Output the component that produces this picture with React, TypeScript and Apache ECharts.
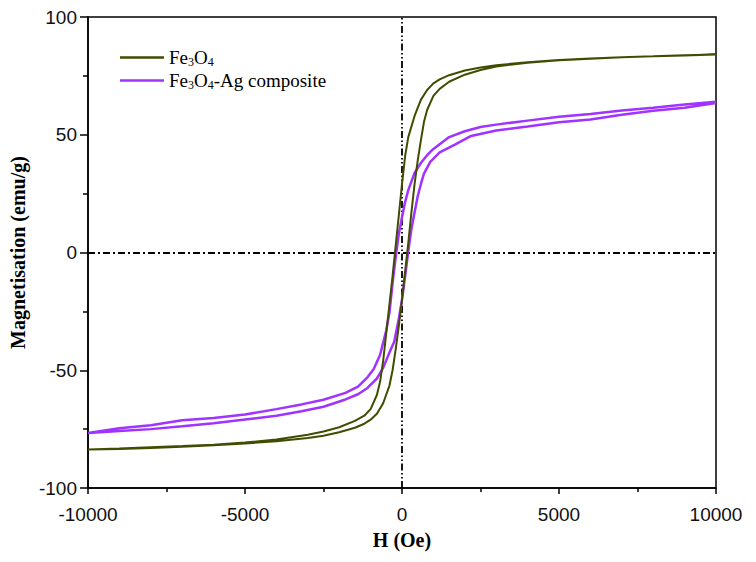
import React, { useEffect, useRef } from "react";
import * as echarts from "echarts";

// Fe3O4: descending branch (H from +10000 to -10000)
const feDescH = [10000, 9000, 8000, 7000, 6000, 5000, 4000, 3000, 2500, 2000, 1500, 1200, 1000, 800, 600, 400, 200, 100, 0, -100, -200, -300, -400, -500, -600, -700, -800, -1000, -1200, -1500, -2000, -2500, -3000, -4000, -5000, -6000, -7000, -8000, -9000, -10000];
const feDescM = [84.1, 83.8, 83.3, 82.9, 82.4, 81.7, 80.8, 79.5, 78.6, 77.3, 75.3, 73.5, 71.8, 69.0, 64.8, 58.0, 49.0, 41.0, 29.0, 16.0, 3.0, -10.0, -22.0, -34.0, -46.0, -55.0, -60.5, -66.5, -69.3, -71.5, -74.2, -76.0, -77.4, -79.4, -80.7, -81.6, -82.2, -82.7, -83.2, -83.6];
// Fe3O4: ascending branch (H from -10000 to +10000)
const feAscH = [-10000, -9000, -8000, -7000, -6000, -5000, -4000, -3000, -2500, -2000, -1500, -1200, -1000, -800, -600, -400, -300, -200, -100, 0, 100, 200, 300, 400, 500, 600, 700, 800, 1000, 1200, 1500, 2000, 2500, 3000, 4000, 5000, 6000, 7000, 8000, 9000, 10000];
const feAscM = [-83.6, -83.4, -83.0, -82.5, -81.9, -81.1, -80.1, -78.8, -77.8, -76.3, -74.4, -72.7, -71.0, -68.5, -64.0, -56.5, -50.0, -41.0, -31.0, -20.0, -8.0, 4.0, 17.0, 29.0, 39.0, 47.5, 55.5, 60.5, 66.5, 69.5, 72.5, 75.5, 77.5, 79.0, 80.6, 81.6, 82.3, 82.9, 83.3, 83.7, 84.1];

// Fe3O4-Ag composite: descending branch
const agDescH = [10000, 9000, 8000, 7000, 6000, 5000, 4000, 3000, 2500, 2000, 1500, 1200, 1000, 800, 600, 400, 200, 100, 0, -100, -200, -300, -400, -500, -700, -900, -1100, -1400, -1800, -2500, -3200, -4000, -5000, -6000, -7000, -8000, -9000, -10000];
const agDescM = [64.0, 62.8, 61.5, 60.3, 58.8, 57.6, 56.0, 54.3, 53.3, 51.5, 49.0, 46.0, 44.0, 41.3, 38.0, 33.8, 26.5, 21.5, 15.0, 8.0, -2.0, -13.0, -25.5, -33.0, -43.5, -49.5, -53.0, -57.0, -59.6, -62.5, -64.5, -66.5, -68.8, -70.3, -71.2, -73.4, -74.6, -76.6];
// Fe3O4-Ag composite: ascending branch
const agAscH = [-10000, -9000, -8000, -7000, -6000, -5000, -4000, -3200, -2500, -1800, -1400, -1100, -800, -600, -400, -250, -100, 0, 100, 200, 300, 400, 500, 600, 700, 900, 1200, 1700, 2200, 3000, 4000, 5000, 6000, 7000, 8000, 9000, 10000];
const agAscM = [-76.8, -75.8, -75.0, -73.8, -72.5, -70.9, -69.3, -67.4, -65.5, -62.4, -60.2, -57.5, -53.5, -49.0, -42.5, -38.0, -28.0, -20.0, -10.0, 0.5, 10.0, 17.0, 23.9, 29.0, 33.5, 38.5, 42.5, 45.9, 49.5, 51.8, 53.5, 55.3, 56.5, 58.5, 60.2, 61.5, 63.5];

const seriesNames = ["Fe3O4", "Fe3O4-Ag composite"];
const xTicks = { min: -10000, max: 10000, interval: 5000 };
const yTicks = { min: -100, max: 100, interval: 50 };

const zip = (h: number[], m: number[]) => h.map((v, i) => [v, m[i]]);

const SANS = "'Liberation Sans', Arial, sans-serif";
const SERIF = "'Liberation Serif', 'Times New Roman', serif";

export default function App() {
  const ref = useRef<HTMLDivElement>(null);
  useEffect(() => {
    if (!ref.current) return;
    const chart = echarts.init(ref.current, undefined, { renderer: "svg" });
    const feData = [...zip(feDescH, feDescM), ...zip(feAscH, feAscM)];
    const agData = [...zip(agDescH, agDescM), ...zip(agAscH, agAscM)];
    const axisLine = { show: true, onZero: false, lineStyle: { color: "#000", width: 1.5 } };
    chart.setOption({
      animation: false,
      backgroundColor: "#fff",
      grid: {
        left: 80,
        right: 32,
        top: 9,
        bottom: 66,
        containLabel: false,
        outerBoundsMode: "none",
        show: true,
        borderColor: "#000",
        borderWidth: 1.5,
        backgroundColor: "transparent",
      },
      legend: {
        orient: "vertical",
        left: 112,
        top: 39,
        padding: 0,
        itemGap: 2,
        itemWidth: 44,
        itemHeight: 2.5,
        icon: "rect",
        data: seriesNames,
        formatter: (name: string) =>
          name === "Fe3O4"
            ? "{a|Fe}{s|3}{a|O}{s|4}"
            : "{a|Fe}{s|3}{a|O}{s|4}{a|-Ag composite}",
        textStyle: {
          fontFamily: SERIF,
          color: "#000",
          rich: {
            a: { fontFamily: SERIF, fontSize: 19, lineHeight: 24, color: "#000" },
            s: { fontFamily: SERIF, fontSize: 12, lineHeight: 16, padding: [9, 0, 0, 0], color: "#000" },
          },
        },
      },
      xAxis: {
        type: "value",
        min: xTicks.min,
        max: xTicks.max,
        interval: xTicks.interval,
        name: "H (Oe)",
        nameLocation: "middle",
        nameGap: 42,
        nameTextStyle: { fontFamily: SERIF, fontWeight: "bold", fontSize: 20, color: "#000" },
        axisLine,
        axisTick: { show: true, inside: false, length: 6, lineStyle: { color: "#000", width: 1.5 } },
        minorTick: { show: true, splitNumber: 2, length: 4, lineStyle: { color: "#000", width: 1.5 } },
        splitLine: { show: false },
        axisLabel: { fontFamily: SANS, fontSize: 19, color: "#111", margin: 17, formatter: (v: number) => String(v) },
      },
      yAxis: {
        type: "value",
        min: yTicks.min,
        max: yTicks.max,
        interval: yTicks.interval,
        name: "Magnetisation (emu/g)",
        nameLocation: "middle",
        nameGap: 52,
        nameTextStyle: { fontFamily: SERIF, fontWeight: "bold", fontSize: 20, color: "#000" },
        axisLine,
        axisTick: { show: true, inside: false, length: 8, lineStyle: { color: "#000", width: 1.5 } },
        minorTick: { show: true, splitNumber: 2, length: 5, lineStyle: { color: "#000", width: 1.5 } },
        splitLine: { show: false },
        axisLabel: { fontFamily: SANS, fontSize: 19, color: "#111", margin: 11, formatter: (v: number) => String(v) },
      },
      series: [
        {
          name: seriesNames[0],
          type: "line",
          data: feData,
          symbol: "none",
          smooth: false,
          lineStyle: { color: "#424c00", width: 2 },
          itemStyle: { color: "#424c00" },
          z: 3,
          markLine: {
            silent: true,
            symbol: ["none", "none"],
            label: { show: false },
            z: 1,
            lineStyle: { color: "#000", width: 1.8, type: [7, 3, 2, 3] },
            data: [
              { xAxis: 0, lineStyle: { color: "#000", width: 1.8, type: [7, 2.5, 1.5, 2.5, 1.5, 2.5] } },
              { yAxis: 0 },
            ],
          },
        },
        {
          name: seriesNames[1],
          type: "line",
          data: agData,
          symbol: "none",
          smooth: false,
          lineStyle: { color: "#a033ff", width: 2.5 },
          itemStyle: { color: "#a033ff" },
          z: 2,
        },
      ],
    });
    return () => chart.dispose();
  }, []);
  return <div ref={ref} style={{ width: 740, height: 546 }} />;
}
